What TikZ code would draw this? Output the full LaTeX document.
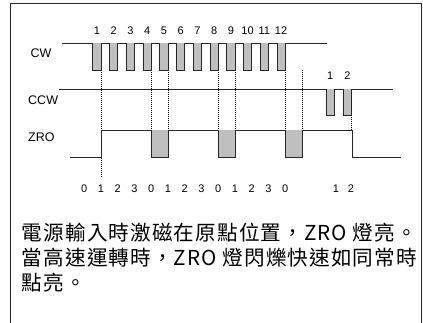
\documentclass[tikz,border=0pt]{standalone}
\usepackage{fontspec}
\setmainfont{Liberation Sans}
\newfontfamily\cjk[LetterSpace=5.4]{Noto Sans CJK TC}
\begin{document}
\begin{tikzpicture}[x=1pt,y=-1pt,
  wave/.style={line width=0.7pt,black!85},
  pulsefill/.style={fill=black!25},
  guide/.style={line width=0.5pt,dash pattern=on 1pt off 1pt},
  lbl/.style={font=\fontsize{12.5}{13}\selectfont,anchor=base west,inner sep=0},
  num/.style={font=\fontsize{11}{12}\selectfont,anchor=base,inner sep=0},
  note/.style={font=\cjk\fontsize{20.6}{22}\selectfont,anchor=base west,inner sep=0}]
\useasboundingbox (0,0) rectangle (423,323);
\begin{scope}
\clip (0,0) rectangle (423,323);
\draw[line width=1.6pt,black!85] (10.5,3.5) rectangle (421.5,340);
\end{scope}
% fills
\foreach \k in {0,...,11}{
  \fill[pulsefill] ({92.7+16.75*\k},43) rectangle ++(8.3,27);
}
\fill[pulsefill] (326,89) rectangle (334.3,115);
\fill[pulsefill] (343.3,89) rectangle (351.7,115);
\fill[pulsefill] (151.25,130) rectangle (168,157);
\fill[pulsefill] (218.25,130) rectangle (235,157);
\fill[pulsefill] (285.25,130) rectangle (302,157);
% guides
\draw[guide] (101,70) -- (101,178);
\foreach \x in {151.25,168,218.25,235,285.25,302}{
  \draw[guide] (\x,70) -- (\x,130);
}
\draw[guide] (351.7,115) -- (351.7,130);
% CW
\draw[wave] (62,43) foreach \k in {0,...,11}{
  -- ({92.7+16.75*\k},43) -- ++(0,27) -- ++(8.3,0) -- ++(0,-27) } -- (326.7,43);
% CCW
\draw[wave] (59,89) -- (326,89) -- (326,115) -- (334.3,115) -- (334.3,89)
  -- (343.3,89) -- (343.3,115) -- (351.7,115) -- (351.7,89) -- (392.7,89);
% ZRO
\draw[wave] (70,157) -- (101,157) -- (101,130) -- (151.25,130) -- (151.25,157)
  -- (168,157) -- (168,130) -- (218.25,130) -- (218.25,157) -- (235,157)
  -- (235,130) -- (285.25,130) -- (285.25,157) -- (302,157) -- (302,130)
  -- (352,130) -- (352,157) -- (401,157);
% labels
\node[lbl] (cw) at (30.5,57.3) {CW};
\node[lbl] (ccw) at (28,105) {CCW};
\node[lbl] (zro) at (28,141.7) {ZRO};
\foreach \k in {1,...,12}{
  \node[num] (t\k) at ({96.85+16.75*(\k-1)},34.3) {\k};
}
\node[num] (c1) at (330.2,80) {1};
\node[num] (c2) at (347.5,80) {2};
\foreach \v [count=\i from 0] in {0,1,2,3,0,1,2,3,0,1,2,3,0}{
  \node[num] (b\i) at ({84.25+16.75*\i},192.7) {\v};
}
\node[num] (b13) at (336,192.7) {1};
\node[num] (b14) at (351,192.7) {2};
% note text
\node[note] (n1) at (21.7,240.8) {電源輸入時激磁在原點位置，ZRO 燈亮。};
\node[note] (n2) at (21.7,265.8) {當高速運轉時，ZRO 燈閃爍快速如同常時};
\node[note] (n3) at (21.7,290.8) {點亮。};
\end{tikzpicture}
\end{document}
